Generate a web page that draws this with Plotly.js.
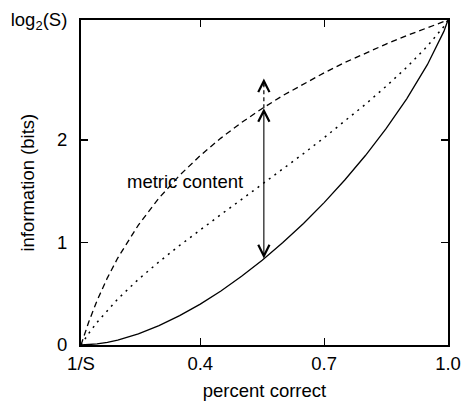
<!DOCTYPE html>
<html>
<head>
<meta charset="utf-8">
<script src="https://cdn.plot.ly/plotly-3.0.1.min.js"></script>
<style>html,body{margin:0;padding:0;background:#fff;}#chart{width:462px;height:401px;}</style>
</head>
<body>
<div id="chart"></div>
<script>
// percent correct (x) sample positions
const pc = [0.1111, 0.12, 0.13, 0.15, 0.175, 0.2, 0.25, 0.3, 0.35, 0.4, 0.45, 0.5, 0.55, 0.6, 0.65, 0.7, 0.75, 0.8, 0.85, 0.9, 0.95, 0.98, 0.99, 1.0];
// solid curve: transmitted information (bits)
const infoSolid = [0, 0.001, 0.003, 0.01, 0.026, 0.048, 0.109, 0.189, 0.286, 0.399, 0.527, 0.67, 0.827, 0.999, 1.186, 1.389, 1.609, 1.848, 2.11, 2.401, 2.734, 2.969, 3.059, 3.17];
// dashed curve: upper information
const infoDashed = [0, 0.111, 0.226, 0.433, 0.655, 0.848, 1.17, 1.433, 1.655, 1.848, 2.018, 2.17, 2.307, 2.433, 2.548, 2.655, 2.755, 2.848, 2.935, 3.018, 3.096, 3.141, 3.155, 3.17];
// dotted curve: intermediate information
const infoDotted = [0, 0.056, 0.114, 0.222, 0.34, 0.448, 0.64, 0.811, 0.971, 1.124, 1.273, 1.42, 1.567, 1.716, 1.867, 2.022, 2.182, 2.348, 2.523, 2.709, 2.915, 3.055, 3.107, 3.17];

// axis ticks
const xTickVals = [0.1111, 0.4, 0.7, 1.0];
const xTickText = ["1/S", "0.4", "0.7", "1.0"];
const yTickVals = [0, 1, 2, 3.17];
const yTickText = ["0", "1", "2", "log<sub>2</sub>(S)"];

// texts
const xTitle = "percent correct";
const yTitle = "information (bits)";
const labelText = "metric content";

// arrow annotation values
const arrowX = 0.554;
const arrowLow = 0.83;
const arrowMid = 2.31;
const arrowTop = 2.60;
const labelX = 0.363;
const labelY = 1.59;

const font = {family: "Liberation Sans, Arial, Helvetica, sans-serif", size: 18.5, color: "#000"};

const traces = [
  {x: pc, y: infoSolid, mode: "lines", line: {color: "#000", width: 1.3, dash: "solid"}, hoverinfo: "skip"},
  {x: pc, y: infoDotted, mode: "lines", line: {color: "#000", width: 1.5, dash: "2px,5px"}, hoverinfo: "skip"},
  {x: pc, y: infoDashed, mode: "lines", line: {color: "#000", width: 1.3, dash: "6px,4px"}, hoverinfo: "skip"}
];

const axisCommon = {
  showline: true, linecolor: "#000", linewidth: 2, mirror: "ticks",
  ticks: "inside", ticklen: 7, tickwidth: 1.2, tickcolor: "#000",
  showgrid: false, zeroline: false, tickmode: "array", tickfont: font
};

const layout = {
  width: 462, height: 401,
  margin: {l: 81, r: 14, t: 20, b: 56},
  paper_bgcolor: "#fff", plot_bgcolor: "#fff",
  showlegend: false,
  font: font,
  xaxis: Object.assign({}, axisCommon, {
    range: [0.1111, 1.0], tickvals: xTickVals, ticktext: xTickText,
    ticklabelstandoff: 1,
    title: {text: xTitle, font: font, standoff: 14}
  }),
  yaxis: Object.assign({}, axisCommon, {
    range: [0, 3.17], tickvals: yTickVals, ticktext: yTickText,
    ticklabelstandoff: 8
  }),
  shapes: [
    {type: "line", xref: "x", yref: "y", x0: arrowX, x1: arrowX, y0: arrowMid, y1: arrowTop - 0.06,
     line: {color: "#000", width: 1.2, dash: "4px,3px"}}
  ],
  annotations: [
    {x: arrowX, y: arrowMid, ax: arrowX, ay: arrowLow, xref: "x", yref: "y", axref: "x", ayref: "y",
     text: "", showarrow: true, arrowhead: 5, startarrowhead: 5, arrowside: "end+start",
     arrowsize: 2, startarrowsize: 2, arrowwidth: 1.1, arrowcolor: "#000"},
    {x: arrowX, y: arrowTop, ax: 0, ay: 9, xref: "x", yref: "y",
     text: "", showarrow: true, arrowhead: 5, arrowsize: 2, arrowwidth: 1.1, arrowcolor: "#000"},
    {x: labelX, y: labelY, xref: "x", yref: "y", text: labelText, showarrow: false, font: font},
    {x: -0.147, y: 0.5, xref: "paper", yref: "paper", text: yTitle, textangle: -90,
     showarrow: false, font: font, xanchor: "center", yanchor: "middle"}
  ]
};

Plotly.newPlot("chart", traces, layout, {displayModeBar: false, staticPlot: true});
</script>
</body>
</html>
